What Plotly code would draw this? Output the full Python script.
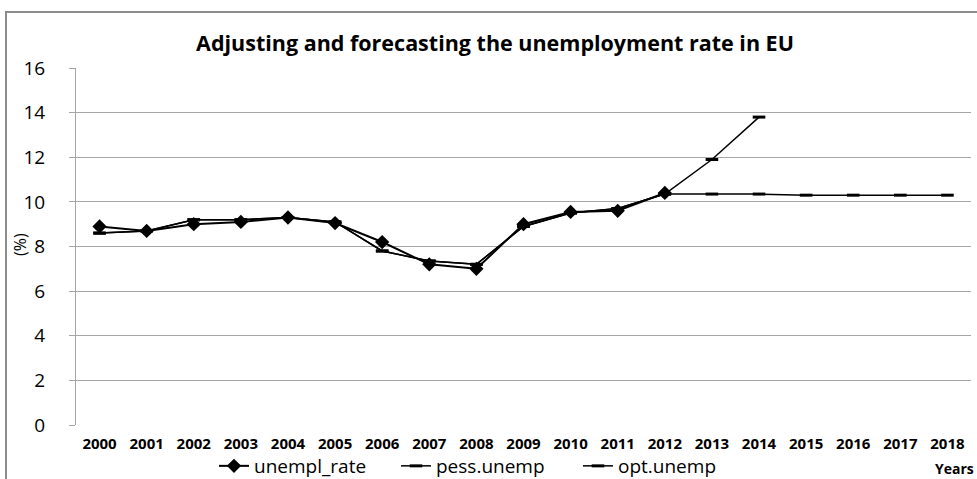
import plotly.graph_objects as go

years = [str(y) for y in range(2000, 2019)]
unempl_rate = [8.9, 8.7, 9.0, 9.1, 9.3, 9.05, 8.2, 7.2, 7.0, 9.0, 9.55, 9.6, 10.4]
pess_unemp = [8.6, 8.7, 9.2, 9.2, 9.3, 9.1, 7.8, 7.35, 7.2, 8.9, 9.5, 9.7, 10.35, 11.9, 13.8]
opt_unemp = [8.6, 8.7, 9.2, 9.2, 9.3, 9.1, 7.8, 7.35, 7.2, 8.9, 9.5, 9.7, 10.35,
             10.35, 10.35, 10.3, 10.3, 10.3, 10.3]
y_ticks = [0, 2, 4, 6, 8, 10, 12, 14, 16]

FONT = "Open Sans"

fig = go.Figure()
fig.add_trace(go.Scatter(
    x=years[:len(pess_unemp)], y=pess_unemp, name="pess.unemp", legendrank=2,
    mode="lines+markers", line=dict(color="black", width=1.5),
    marker=dict(symbol="line-ew", size=9, color="black", line=dict(color="black", width=3)),
))
fig.add_trace(go.Scatter(
    x=years[:len(opt_unemp)], y=opt_unemp, name="opt.unemp", legendrank=3,
    mode="lines+markers", line=dict(color="black", width=1.5),
    marker=dict(symbol="line-ew", size=9, color="black", line=dict(color="black", width=3)),
))
fig.add_trace(go.Scatter(
    x=years[:len(unempl_rate)], y=unempl_rate, name="unempl_rate", legendrank=1,
    mode="lines+markers", line=dict(color="black", width=2),
    marker=dict(symbol="diamond", size=11, color="black"),
))

fig.update_layout(
    width=977, height=479,
    margin=dict(l=76, r=6, t=68, b=54, autoexpand=False),
    paper_bgcolor="white", plot_bgcolor="white",
    font=dict(family=FONT, color="black"),
    title=dict(text="<b>Adjusting and forecasting the unemployment rate in EU</b>",
               x=495 / 977, xanchor="center", y=1 - 43 / 479, yanchor="middle",
               font=dict(size=21.5, family=FONT, color="black")),
    showlegend=True,
    legend=dict(orientation="h", xref="container", yref="container",
                x=214 / 977, xanchor="left", y=1 - 466 / 479, yanchor="middle",
                font=dict(size=19, family=FONT), traceorder="normal",
                entrywidth=137, entrywidthmode="pixels",
                bgcolor="rgba(0,0,0,0)"),
)
fig.update_xaxes(
    type="category", categoryorder="array", categoryarray=years,
    range=[-0.5, 18.5], showgrid=False, showline=False, ticks="",
    tickfont=dict(size=15, family=FONT, color="black", weight="bold"),
    ticklabelstandoff=8,
    zeroline=False, fixedrange=True, automargin=False,
)
fig.update_yaxes(
    range=[0, 16], tickvals=y_ticks, showgrid=True, gridcolor="#a6a6a6", gridwidth=1,
    showline=True, linecolor="#a6a6a6", linewidth=1, ticks="outside", ticklen=6,
    tickcolor="#a6a6a6", tickfont=dict(size=19, family=FONT, color="black"),
    ticklabelstandoff=20, zeroline=False, automargin=False,
)
# outer chart frame
fig.add_shape(type="rect", xref="paper", yref="paper",
              x0=(6 - 76) / 895, x1=1.05, y0=-0.3, y1=(425 - 12) / 357,
              line=dict(color="#8c8c8c", width=2), fillcolor="rgba(0,0,0,0)", layer="below")
# y-axis title
fig.add_annotation(text="(%)", xref="paper", yref="paper",
                   x=(20 - 76) / 895, y=(425 - 245) / 357, xanchor="center", yanchor="middle",
                   textangle=-90, showarrow=False,
                   font=dict(size=16, family=FONT, color="black"))
fig.add_annotation(text="<b>Years</b>", xref="paper", yref="paper",
                   x=(976 - 76) / 895, y=(425 - 468) / 357, xanchor="right", yanchor="middle",
                   showarrow=False, font=dict(size=14, family=FONT, color="black"))

fig.write_html("out.html", config={"displayModeBar": False},
               post_script="document.body.style.margin='0';document.body.style.overflow='hidden';")
